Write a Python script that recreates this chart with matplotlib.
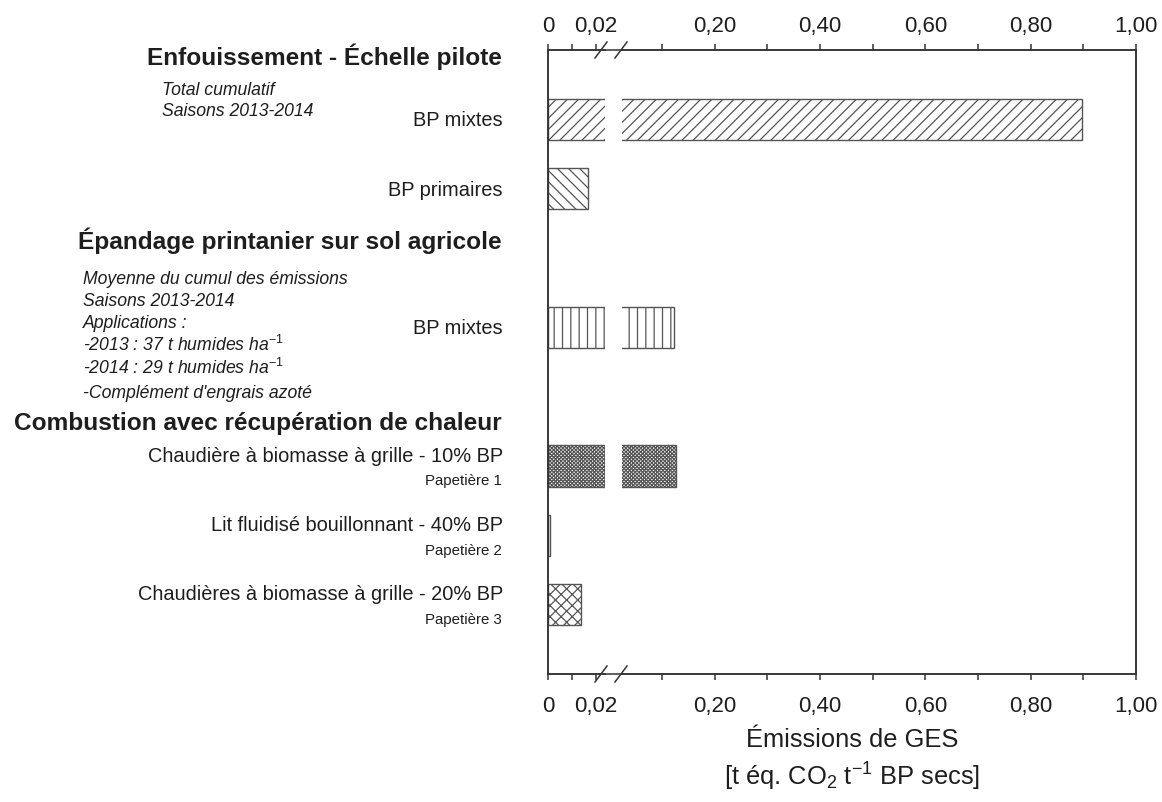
import matplotlib
matplotlib.use('Agg')
import matplotlib.pyplot as plt
from matplotlib.lines import Line2D
from matplotlib.ticker import FixedLocator, FuncFormatter

W, H = 1162, 802
plt.rcParams['font.family'] = ['Liberation Sans', 'DejaVu Sans']
plt.rcParams['mathtext.fontset'] = 'custom'
plt.rcParams['mathtext.rm'] = 'Liberation Sans'
plt.rcParams['mathtext.it'] = 'Liberation Sans:italic'
plt.rcParams['mathtext.default'] = 'regular'
plt.rcParams['hatch.linewidth'] = 0.9

# ---------------- data ----------------
rows = [0, 1, 3, 5, 6, 7]
labels = ['BP mixtes', 'BP primaires', 'BP mixtes',
          'Chaudière à biomasse à grille - 10% BP',
          'Lit fluidisé bouillonnant - 40% BP',
          'Chaudières à biomasse à grille - 20% BP']
sublabels = ['', '', '', 'Papetière 1', 'Papetière 2', 'Papetière 3']
values = [0.897, 0.017, 0.1225, 0.127, 0.0007, 0.0138]
hatches = ['///', '\\\\\\', '||', 'xxxxxxxxx', '', 'xxx']

headings = ['Enfouissement - Échelle pilote',
            'Épandage printanier sur sol agricole',
            'Combustion avec récupération de chaleur']
notes_enf = ['Total cumulatif', 'Saisons 2013-2014']
notes_epa = ['Moyenne du cumul des émissions', 'Saisons 2013-2014', 'Applications :',
             r'-2013 : 37 t humides ha$^{\mathit{-1}}$',
             r'-2014 : 29 t humides ha$^{\mathit{-1}}$',
             "-Complément d'engrais azoté"]

left_major = [0, 0.02]
left_minor = [0.01]
right_major = [0.2, 0.4, 0.6, 0.8, 1.0]
right_minor = [0.1, 0.3, 0.5, 0.7, 0.9]
left_lim = (0, 0.024)
right_lim = (0.024, 1.0)
xlabel_lines = ['Émissions de GES', '[t éq. CO$_2$ t$^{-1}$ BP secs]']

# ---------------- layout ----------------
fig = plt.figure(figsize=(W / 100, H / 100), dpi=100)
x0, xb1, xb2, x1 = 548, 605, 622, 1136
ytop, ybot = 50, 674
ax1 = fig.add_axes([x0 / W, 1 - ybot / H, (xb1 - x0) / W, (ybot - ytop) / H])
ax2 = fig.add_axes([xb2 / W, 1 - ybot / H, (x1 - xb2) / W, (ybot - ytop) / H])

spine_c = '#333333'
edge_c = '#555555'
text_c = '#1e1e1e'

def fmt(v, pos):
    if v == 0:
        return '0'
    return f'{v:.2f}'.replace('.', ',')

def style_ticks(a, maj, mn, top):
    a.xaxis.set_major_locator(FixedLocator(maj))
    a.xaxis.set_minor_locator(FixedLocator(mn))
    a.xaxis.set_major_formatter(FuncFormatter(fmt))
    a.tick_params(axis='x', which='both', top=top, bottom=not top,
                  labeltop=top, labelbottom=not top,
                  direction='out', length=4.5, width=1.1,
                  color=spine_c, labelsize=16, labelcolor=text_c)
    a.tick_params(axis='x', which='major', pad=5 if top else 11)

for ax, lim, maj, mn in [(ax1, left_lim, left_major, left_minor),
                         (ax2, right_lim, right_major, right_minor)]:
    for r, v, h in zip(rows, values, hatches):
        ax.barh(r, v, height=0.6, left=0, facecolor='white', edgecolor=edge_c,
                hatch=h, linewidth=1.0)
    ax.set_xlim(*lim)
    ax.set_ylim(8, -1)
    ax.set_yticks([])
    style_ticks(ax, maj, mn, top=False)
    axt = ax.twiny()
    axt.set_xlim(*lim)
    style_ticks(axt, maj, mn, top=True)
    for a in (ax, axt):
        for s in a.spines.values():
            s.set_color(spine_c)
            s.set_linewidth(1.1)
        a.patch.set_alpha(0)
    if ax is ax1:
        ax.spines['right'].set_visible(False)
        axt.spines['right'].set_visible(False)
    else:
        ax.spines['left'].set_visible(False)
        axt.spines['left'].set_visible(False)

# continuous axis line through the gap + break slashes
for yy in (ytop, ybot):
    fig.add_artist(Line2D([xb1 / W, xb2 / W], [1 - yy / H, 1 - yy / H],
                          transform=fig.transFigure, color=spine_c, lw=1.1))
    for xc in (601, 621):
        fig.add_artist(Line2D([(xc - 6) / W, (xc + 6) / W],
                              [1 - (yy + 8) / H, 1 - (yy - 8) / H],
                              transform=fig.transFigure, color=spine_c, lw=1.1))

# row labels
for r, lab, sub in zip(rows, labels, sublabels):
    if sub:
        ax1.annotate(lab, xy=(0, r), xycoords=('axes fraction', 'data'),
                     xytext=(-45 * 0.72, 4.5 * 0.72), textcoords='offset points',
                     ha='right', va='baseline', fontsize=14.4, color=text_c)
        ax1.annotate(sub, xy=(0, r), xycoords=('axes fraction', 'data'),
                     xytext=(-46 * 0.72, -19.5 * 0.72), textcoords='offset points',
                     ha='right', va='baseline', fontsize=10.8, color=text_c)
    else:
        ax1.annotate(lab, xy=(0, r), xycoords=('axes fraction', 'data'),
                     xytext=(-45 * 0.72, -7 * 0.72), textcoords='offset points',
                     ha='right', va='baseline', fontsize=14.4, color=text_c)

# headings
for txt, yb in zip(headings, [65, 249, 430]):
    fig.text(502 / W, 1 - yb / H, txt, ha='right', va='baseline', fontsize=17.6,
             fontweight='bold', color=text_c)

# notes
for txt, yb in zip(notes_enf, [95, 116]):
    fig.text(162 / W, 1 - yb / H, txt, ha='left', va='baseline', fontsize=12.7,
             style='italic', color=text_c)
for txt, yb in zip(notes_epa, [284, 306, 328, 351, 374, 398]):
    fig.text(83 / W, 1 - yb / H, txt, ha='left', va='baseline', fontsize=12.7,
             style='italic', color=text_c)

# x label (two lines)
for txt, yb in zip(xlabel_lines, [747, 786]):
    fig.text(852 / W, 1 - yb / H, txt, ha='center', va='baseline', fontsize=18.4,
             color=text_c)

fig.savefig('out.png', dpi=100, facecolor='white')
